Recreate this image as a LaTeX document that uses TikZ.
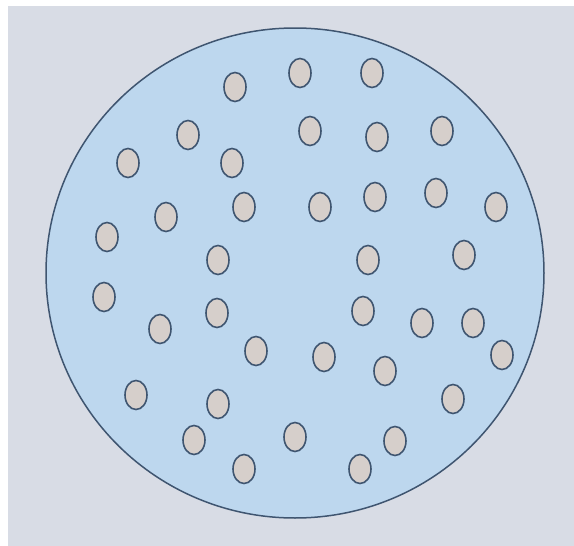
\documentclass[tikz,border=0pt]{standalone}
\usepackage{tikz}
\usetikzlibrary{shapes.geometric}
\definecolor{backgrey}{HTML}{D8DCE5}
\definecolor{discblue}{HTML}{BDD7EE}
\definecolor{rimline}{HTML}{3F5570}
\definecolor{porefill}{HTML}{D6CFCB}
\tikzset{disc/.style={fill=discblue,draw=rimline,line width=1.5pt},
  pore/.style={ellipse,draw=rimline,fill=porefill,line width=1.6pt,
    minimum width=22pt,minimum height=29pt,inner sep=0pt}}

\begin{document}
\begin{tikzpicture}[x=1pt,y=-1pt]
  \path[use as bounding box] (0,0) rectangle (574,546);
  \fill[white] (0,0) rectangle (574,546);
  \fill[backgrey] (8,6) rectangle (574,546);
  \draw[disc] (295,273) ellipse [x radius=249, y radius=245];
  % pores, row by row from the top
  \foreach \x/\y [count=\i] in {235/87,300/73,372/73,188/135,310/131,377/137,
      442/131,128/163,232/163,166/217,244/207,320/207,375/197,436/193,496/207,
      107/237,218/260,368/260,464/255,104/297,160/329,217/313,363/311,422/323,
      473/323,256/351,324/357,385/371,502/355,136/395,218/404,453/399,194/440,
      295/437,395/441,244/469,360/469}
    \node[pore] (p\i) at (\x,\y) {};
\end{tikzpicture}
\end{document}
